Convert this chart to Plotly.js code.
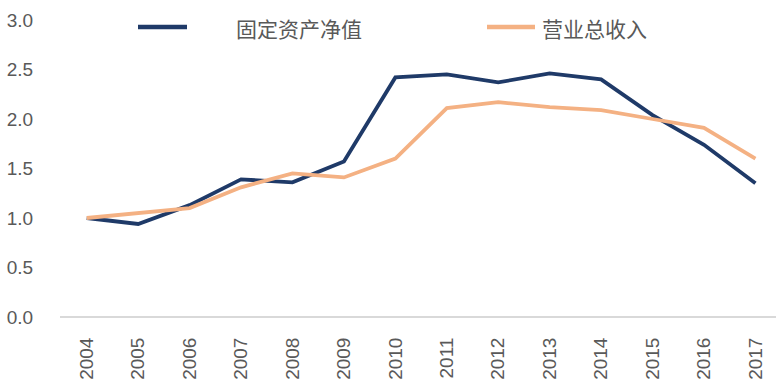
<!DOCTYPE html>
<html><head><meta charset="utf-8">
<script src="https://cdn.plot.ly/plotly-3.0.1.min.js"></script>
<style>html,body{margin:0;padding:0;background:#fff}#c{width:776px;height:390px}</style>
</head><body><div id="c"></div>
<script>
const years = [2004,2005,2006,2007,2008,2009,2010,2011,2012,2013,2014,2015,2016,2017];
const fixedAssets = [1.00,0.94,1.13,1.39,1.36,1.57,2.42,2.45,2.37,2.46,2.40,2.04,1.74,1.35];
const revenue = [1.00,1.05,1.10,1.31,1.45,1.41,1.60,2.11,2.17,2.12,2.09,2.00,1.91,1.60];
const seriesNames = ['固定资产净值','营业总收入'];
const seriesColors = ['#1f3a68','#f4b183'];
const yTicks = [0,0.5,1,1.5,2,2.5,3];
const yTickText = ['0.0','0.5','1.0','1.5','2.0','2.5','3.0'];

const font = '"Liberation Sans", Arial, sans-serif';
const W = 776, H = 390, L = 60, T = 20, B = 73;
const pw = W - L, ph = H - T - B;
const px = v => (v - L) / pw;           // pixel -> paper x
const py = v => (H - B - v) / ph;       // pixel -> paper y

const data = seriesNames.map((n, i) => ({
  x: years, y: i === 0 ? fixedAssets : revenue, name: n, type: 'scatter', mode: 'lines',
  line: {color: seriesColors[i], width: 3.8}
}));

// manual legend (line sample + label)
const legendPos = [{x0: 138, x1: 187, tx: 234, y: 27}, {x0: 487, x1: 535, tx: 540, y: 27}];
const shapes = legendPos.map((p, i) => ({type: 'line', xref: 'paper', yref: 'paper',
  x0: px(p.x0), x1: px(p.x1), y0: py(p.y), y1: py(p.y),
  line: {color: seriesColors[i], width: 4.5}}));
const annotations = legendPos.map((p, i) => ({xref: 'paper', yref: 'paper', x: px(p.tx), y: py(p.y + 1),
  xanchor: 'left', yanchor: 'middle', showarrow: false, text: seriesNames[i],
  font: {family: '"Noto Sans CJK SC", sans-serif', size: 21, color: '#595959'}}));

const layout = {
  width: W, height: H,
  margin: {l: L, r: 0, t: T, b: B, autoexpand: false},
  paper_bgcolor: '#fff', plot_bgcolor: '#fff',
  font: {family: font, color: '#595959', size: 16},
  showlegend: false,
  shapes, annotations,
  xaxis: {type: 'linear', range: [2003.48, 2017.4], tickvals: years, ticktext: years.map(String),
    tickangle: -90, showgrid: false, zeroline: false, showline: false,
    ticks: 'outside', ticklen: 12, tickcolor: 'rgba(0,0,0,0)', tickfont: {size: 19}},
  yaxis: {range: [0, 3], tickvals: yTicks, ticktext: yTickText, showgrid: false, zeroline: true,
    zerolinecolor: '#d9d9d9', zerolinewidth: 1.5, showline: false,
    ticks: 'outside', ticklen: 22, tickcolor: 'rgba(0,0,0,0)', tickfont: {size: 19}},
  hovermode: false
};
Plotly.newPlot('c', data, layout, {displayModeBar: false, staticPlot: true});
</script></body></html>
